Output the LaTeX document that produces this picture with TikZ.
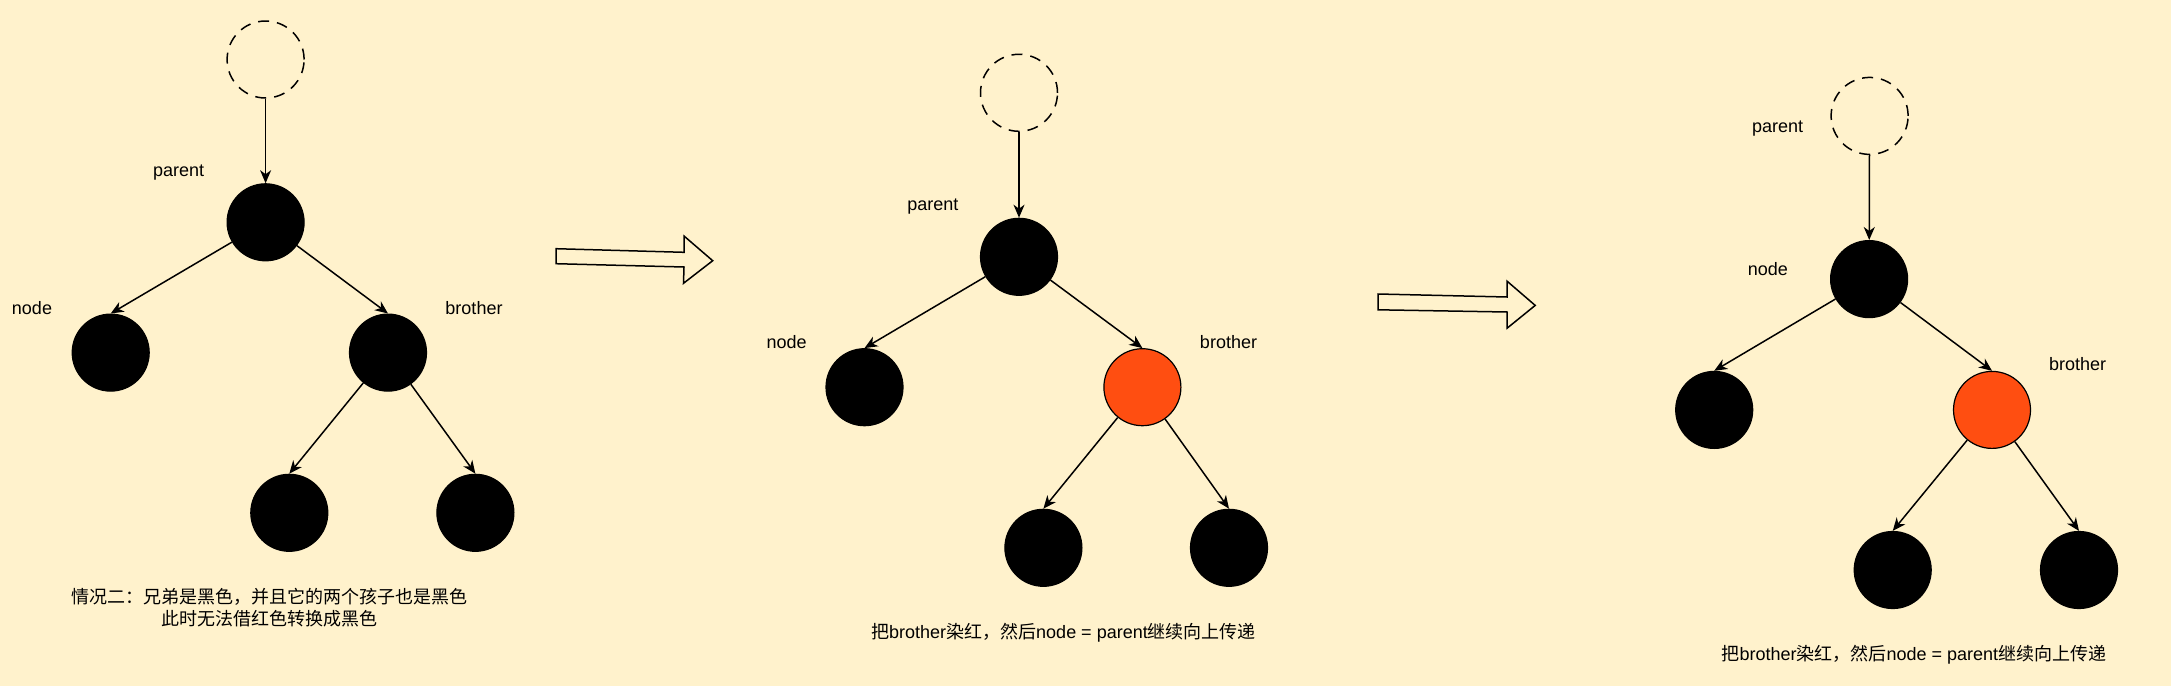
\documentclass[tikz,border=0pt]{standalone}
\usepackage{fontspec}
\setmainfont{Liberation Sans}
\newfontfamily\cjk{Noto Sans CJK SC}
\usetikzlibrary{arrows.meta}
\definecolor{bg}{HTML}{FFF2CC}
\definecolor{rbred}{HTML}{FF4E11}
\begin{document}
\begin{tikzpicture}[x=1pt,y=-1pt,
  blk/.style={circle, fill=black, draw=black, line width=1.2pt, minimum size=77pt, inner sep=0pt},
  rednode/.style={circle, fill=rbred, draw=black, line width=1.2pt, minimum size=77pt, inner sep=0pt},
  ghost/.style={circle, draw=black, dash pattern=on 11pt off 8pt, line width=1.5pt, minimum size=77pt, inner sep=0pt},
  edge/.style={-{Stealth[length=13pt,width=11pt,inset=4pt]}, line width=1.5pt},
  lbl/.style={font=\fontsize{18}{22}\selectfont, inner sep=0pt},
  bigarrow/.style={draw=black, fill=bg, line width=1.5pt, line join=miter}]
\fill[bg] (0,0) rectangle (2171,686);
\useasboundingbox (0,0) rectangle (2171,686);

% ---------- panel 1 ----------
\node[ghost] (aG) at (265.6,59.5) {};
\node[blk] (aP) at (265.6,222.3) {};
\node[blk] (aN) at (110.7,352.6) {};
\node[blk] (aB) at (388,352.6) {};
\node[blk] (aL) at (289.3,512.8) {};
\node[blk] (aR) at (475.4,512.8) {};
\draw[edge] (aG) -- (aP);
\draw[edge] (aP) -- (aN.north);
\draw[edge] (aP) -- (aB.north);
\draw[edge] (aB) -- (aL.north);
\draw[edge] (aB) -- (aR.north);
\node[lbl] (aPl) at (178.6,172.5) {parent};
\node[lbl] (aNl) at (32,308) {node};
\node[lbl] (aBl) at (474,308) {brother};
\node[lbl] (aC1) at (269.9,596.5) {\cjk 情况二：兄弟是黑色，并且它的两个孩子也是黑色};
\node[lbl] (aC2) at (269.9,619) {\cjk 此时无法借红色转换成黑色};

% ---------- arrow 1 ----------
\draw[bigarrow] (556,248.7) -- (684,252.3) -- (684,236) -- (712.7,260.7) -- (683.5,283.3) -- (684,267) -- (556,263.7) -- cycle;

% ---------- panel 2 ----------
\node[ghost] (bG) at (1019,92.8) {};
\node[blk] (bP) at (1019,256.8) {};
\node[blk] (bN) at (864.5,387.2) {};
\node[rednode] (bB) at (1142.4,387.2) {};
\node[blk] (bL) at (1043.4,547.8) {};
\node[blk] (bR) at (1229,547.8) {};
\draw[edge] (bG) -- (bP);
\draw[edge] (bP) -- (bN.north);
\draw[edge] (bP) -- (bB.north);
\draw[edge] (bB) -- (bL.north);
\draw[edge] (bB) -- (bR.north);
\node[lbl] (bPl) at (932.9,206.6) {parent};
\node[lbl] (bNl) at (786.6,341.7) {node};
\node[lbl] (bBl) at (1228.5,341.7) {brother};
\node[lbl] (bC) at (1063.5,632.5) {{\cjk 把}brother{\cjk 染红，然后}node = parent{\cjk 继续向上传递}};

% ---------- arrow 2 ----------
\draw[bigarrow] (1378,294) -- (1507.2,297) -- (1507.2,281.3) -- (1535.2,305.4) -- (1507.2,328.1) -- (1507.2,312) -- (1378,309.8) -- cycle;

% ---------- panel 3 ----------
\node[ghost] (cG) at (1869.6,115.9) {};
\node[blk] (cP) at (1869.1,279.1) {};
\node[blk] (cN) at (1714.2,409.9) {};
\node[rednode] (cB) at (1992,409.9) {};
\node[blk] (cL) at (1892.7,570) {};
\node[blk] (cR) at (2079,570) {};
\draw[edge] (cG) -- (cP);
\draw[edge] (cP) -- (cN.north);
\draw[edge] (cP) -- (cB.north);
\draw[edge] (cB) -- (cL.north);
\draw[edge] (cB) -- (cR.north);
\node[lbl] (cPl) at (1777.6,128.7) {parent};
\node[lbl] (cNl) at (1767.8,269) {node};
\node[lbl] (cBl) at (2077.6,364.4) {brother};
\node[lbl] (cC) at (1913.8,654.3) {{\cjk 把}brother{\cjk 染红，然后}node = parent{\cjk 继续向上传递}};
\end{tikzpicture}
\end{document}
